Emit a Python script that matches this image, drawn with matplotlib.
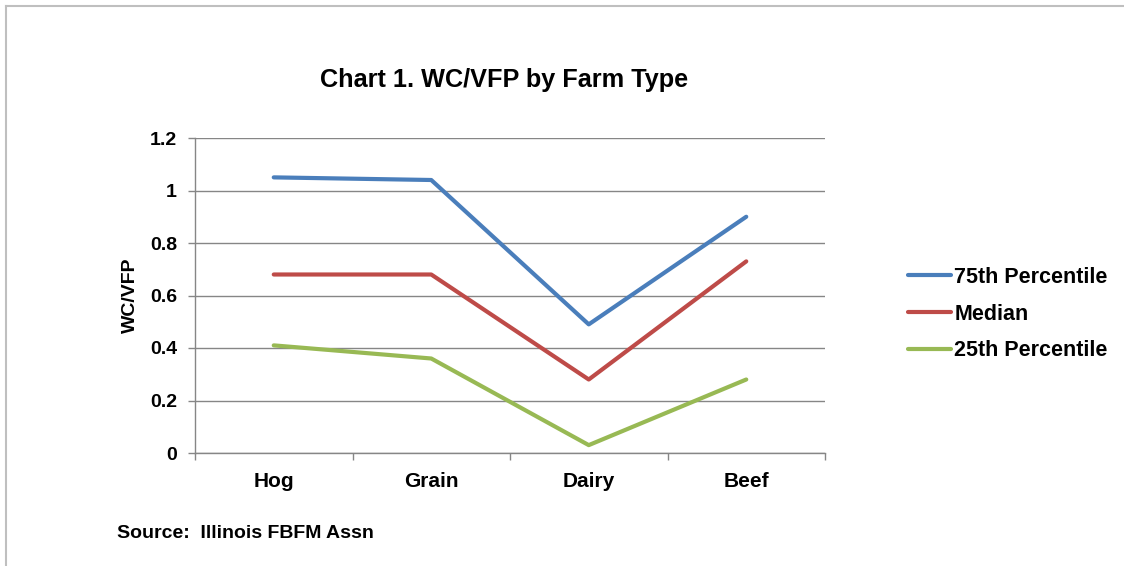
import numpy as np
import matplotlib.pyplot as plt
from matplotlib.lines import Line2D

plt.rcParams['font.family'] = ['Liberation Sans', 'DejaVu Sans']
plt.rcParams['font.weight'] = 'bold'

categories = ['Hog', 'Grain', 'Dairy', 'Beef']
p75 = [1.05, 1.04, 0.49, 0.90]
median = [0.68, 0.68, 0.28, 0.73]
p25 = [0.41, 0.36, 0.03, 0.28]
series_names = ['75th Percentile', 'Median', '25th Percentile']
colors = ['#4a7ebb', '#be4b48', '#98b954']
yticks = [0, 0.2, 0.4, 0.6, 0.8, 1, 1.2]
ytick_labels = ['0', '0.2', '0.4', '0.6', '0.8', '1', '1.2']

fig = plt.figure(figsize=(11.24, 5.66), dpi=100)
ax = fig.add_axes([195 / 1124, 1 - 453 / 566, 630 / 1124, 315 / 566])

x = np.arange(len(categories))
for vals, name, c in zip([p75, median, p25], series_names, colors):
    ax.plot(x, vals, color=c, lw=3, label=name, solid_capstyle='round', solid_joinstyle='round')

ax.set_xlim(-0.5, len(categories) - 0.5)
ax.set_ylim(0, 1.2)
ax.set_yticks(yticks)
ax.set_yticklabels(ytick_labels)
ax.set_xticks(x)
ax.set_xticklabels(categories)
ax.set_xticks(np.arange(-0.5, len(categories)), minor=True)
ax.tick_params(axis='x', which='major', length=0, pad=14, labelsize=15)
ax.tick_params(axis='x', which='minor', length=5, color='#868686', width=1)
ax.tick_params(axis='y', length=5, color='#868686', width=1, pad=8, labelsize=14)
ax.grid(axis='y', color='#868686', lw=1)
ax.set_axisbelow(True)
for s in ['top', 'right']:
    ax.spines[s].set_visible(False)
for s in ['left', 'bottom']:
    ax.spines[s].set_color('#868686')
    ax.spines[s].set_linewidth(1)

ax.set_ylabel('WC/VFP', fontsize=14, fontweight='bold', labelpad=8)
fig.text(504 / 1124, 1 - 80 / 566, 'Chart 1. WC/VFP by Farm Type', ha='center', va='center',
         fontsize=18.2, fontweight='bold')
fig.text(117 / 1124, 1 - 533 / 566, 'Source:  Illinois FBFM Assn', ha='left', va='center',
         fontsize=14, fontweight='bold')

fig.legend(loc='upper left', bbox_to_anchor=(908 / 1124, 1 - 267 / 566), frameon=False,
           prop={'size': 15.5, 'weight': 'bold'}, handlelength=2.0, handletextpad=0.15,
           labelspacing=0.73, borderaxespad=0, borderpad=0)

fig.add_artist(Line2D([5.5 / 1124, 1], [1 - 5.5 / 566, 1 - 5.5 / 566], color='#bfbfbf', lw=1.5,
                      transform=fig.transFigure))
fig.add_artist(Line2D([5.5 / 1124, 5.5 / 1124], [0, 1 - 5.5 / 566], color='#bfbfbf', lw=1.5,
                      transform=fig.transFigure))

fig.savefig('out.png', dpi=100)
